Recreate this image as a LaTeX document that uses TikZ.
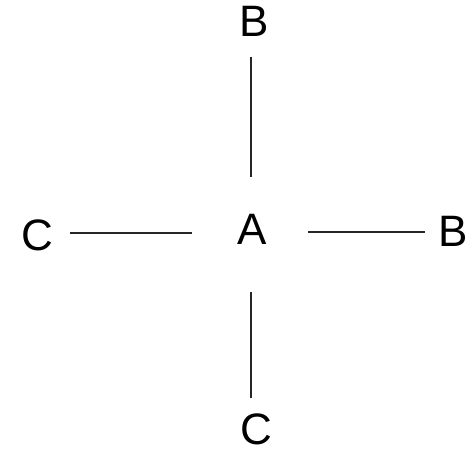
\documentclass[tikz,border=0pt]{standalone}
\usepackage{fontspec}
\setmainfont{Liberation Sans}
\begin{document}
\begin{tikzpicture}[x=1pt,y=-1pt,
  lbl/.style={font=\fontsize{44}{44}\selectfont, inner sep=0pt, text=black},
  link/.style={line width=1.6pt, draw=black!85}]
\useasboundingbox (0,0) rectangle (467,454);
% labels
\node[lbl] (A)  at (252.5,229)   {A};
\node[lbl] (Bt) at (254.5,21.5)  {B};
\node[lbl] (Br) at (453.5,231)   {B};
\node[lbl] (Cl) at (37.5,235.5)  {C};
\node[lbl] (Cb) at (256,429)     {C};
% connectors from the centre label to the four outer labels
\draw[link, shorten <=52pt, shorten >=35.5pt]
  ([xshift=-1.5pt]A.center) -- ([xshift=-1.5pt]A.center |- Bt.center);
\draw[link, shorten <=63pt, shorten >=31pt]
  ([xshift=-1.5pt]A.center) -- ([xshift=-1.5pt]A.center |- Cb.center);
\draw[link, shorten <=60.5pt, shorten >=32.5pt]
  ([yshift=-4pt]A.center) -- ([yshift=-4pt]A.center -| Cl.center);
\draw[link, shorten <=55.5pt, shorten >=28.5pt]
  ([yshift=-3pt]A.center) -- ([yshift=-3pt]A.center -| Br.center);
\end{tikzpicture}
\end{document}
